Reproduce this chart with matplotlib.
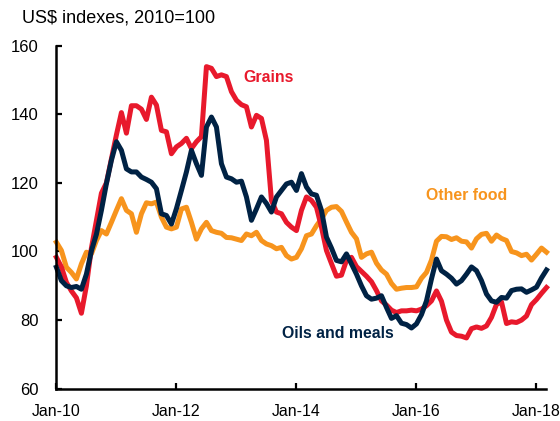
import matplotlib
matplotlib.use("Agg")
import matplotlib.pyplot as plt
import numpy as np
from matplotlib import font_manager as fm

# Monthly data, Jan-2010 .. Mar-2018
grains = [98.3, 95.5, 91, 88.5, 86.5, 82, 90, 101, 109, 117, 120, 127,
          134, 140.5, 134.5, 142.5, 142.5, 141.5, 138.5, 145, 142.7, 135.3, 134.9, 128.5,
          130.5, 131.5, 133, 130, 132, 133.5, 153.9, 153.4, 151, 151.5, 151, 146.6,
          144.1, 142.8, 142.2, 136.3, 139.7, 138.8, 132.4, 114.9, 111.5, 111, 108.5, 107.1,
          106.1, 112, 115.9, 114.9, 112.9, 107.1, 100.3, 96.5, 92.8, 93.1, 97.4, 98.3,
          95.6, 94.2, 92.8, 91.2, 88.6, 85.6, 84.4, 82.9, 82.2, 82.7, 82.7, 82.9,
          82.7, 83.2, 84.2, 85.6, 88.5, 85.5, 80, 76.5, 75.5, 75.3, 74.8, 77.5,
          78, 77.6, 78.3, 80.8, 84.6, 85.3, 79, 79.5, 79.3, 80, 81.2, 84.5,
          86, 87.8, 89.5]
oils_meals = [95.4, 91.5, 90, 89.5, 89.8, 89, 93.4, 100.2, 105, 112, 119.8, 126.6,
              132, 129.5, 124.1, 123.2, 123.2, 121.7, 121, 120.2, 118.3, 111, 110.5, 108,
              112.5, 117.8, 123.2, 129.5, 125.6, 122.2, 136.3, 139.2, 136.3, 125.6, 121.7, 121.2,
              120.2, 120.5, 115.9, 109.1, 112.4, 115.9, 114, 111.5, 115.9, 117.8, 119.7, 120.2,
              117.8, 122.7, 118.8, 116.8, 116.4, 112, 104.2, 101, 97.4, 97, 99.3, 96.4,
              93.4, 90, 87.1, 86.1, 86.4, 87.1, 83.7, 80.5, 81.3, 79.1, 78.7, 77.7,
              78.9, 81.6, 85.6, 92, 97.8, 94.4, 93.4, 92.2, 90.5, 91.5, 93.4, 95.5,
              94.4, 91.5, 87.6, 85.6, 85.2, 86.6, 86.4, 88.6, 89, 89.1, 88.1, 88.8,
              89.6, 92.3, 94.6]
other_food = [102.7, 100.3, 95.4, 93.9, 92, 96.4, 99.8, 99.3, 103.2, 106.1, 105.1, 108.5,
              112, 115.4, 112, 111, 105.6, 111, 114.2, 113.9, 114.4, 110, 107.1, 106.6,
              107.1, 112.4, 112.9, 108.5, 103.6, 106.6, 108.5, 106.1, 105.6, 105.3, 104.1, 104,
              103.6, 103.2, 105.1, 104.6, 105.6, 103.2, 102.2, 101.7, 100.8, 101.2, 98.8, 97.8,
              98.3, 100.8, 104.6, 105.1, 107.5, 109.5, 112, 112.9, 113.1, 111.7, 108.6, 105.6,
              103.7, 98.3, 99.3, 99.8, 96.6, 94.6, 93.4, 90.7, 89, 89.3, 89.5, 89.5,
              89.7, 92.2, 93.9, 97.5, 103, 104.4, 104.3, 103.5, 104, 103, 102.8, 101,
              103.7, 105, 105.3, 103, 104.8, 103.8, 103.2, 100, 99.6, 98.8, 99.2, 97.5,
              99.2, 101, 99.8]

xtick_pos = [0, 24, 48, 72, 96]
xtick_labels = ["Jan-10", "Jan-12", "Jan-14", "Jan-16", "Jan-18"]
yticks = [60, 80, 100, 120, 140, 160]

RED = "#E8192C"
NAVY = "#002244"
ORANGE = "#F7941D"

names = {f.name for f in fm.fontManager.ttflist}
narrow = "Liberation Sans Narrow" if "Liberation Sans Narrow" in names else None
reg = ["Liberation Sans", "DejaVu Sans"]
nar = ([narrow] if narrow else []) + reg
nar_scale = 1.0 if narrow else 0.82

fig = plt.figure(figsize=(5.6, 4.21), dpi=100)
ax = fig.add_axes([56.4 / 560, 1 - 388.7 / 421, (546 - 56.4) / 560, (388.7 - 45.7) / 421])

x = np.arange(len(grains))
lw = 3.6
ax.plot(x, other_food, color=ORANGE, lw=lw, solid_joinstyle="round", clip_on=False)
ax.plot(x, grains, color=RED, lw=lw, solid_joinstyle="round", clip_on=False)
ax.plot(x, oils_meals, color=NAVY, lw=lw, solid_joinstyle="round", clip_on=False)

ax.set_xlim(0, 97.9)
ax.set_ylim(60, 160)
ax.set_yticks(yticks)
ax.set_yticklabels([str(v) for v in yticks], family=reg, fontsize=12)
ax.set_xticks(xtick_pos)
ax.set_xticklabels(xtick_labels, family=nar, fontsize=14 * nar_scale)

for s in ["top", "right"]:
    ax.spines[s].set_visible(False)
for s in ["left", "bottom"]:
    ax.spines[s].set_linewidth(1.8)
ax.tick_params(axis="both", direction="in", length=4.5, width=1.6, color="black")
ax.tick_params(axis="y", pad=13)
ax.tick_params(axis="x", pad=11)

fig.text(22 / 560, 1 - 18 / 421, "US$ indexes, 2010=100", family=reg, fontsize=13,
         ha="left", va="center", color="black")

lab_kw = dict(family=nar, fontsize=14 * nar_scale, fontweight="bold", va="center", ha="left")
fig.text(243 / 560, 1 - 77 / 421, "Grains", color=RED, **lab_kw)
fig.text(426 / 560, 1 - 195 / 421, "Other food", color=ORANGE, **lab_kw)
fig.text(282 / 560, 1 - 334 / 421, "Oils and meals", color=NAVY, **lab_kw)

fig.savefig("out.png", dpi=100)
